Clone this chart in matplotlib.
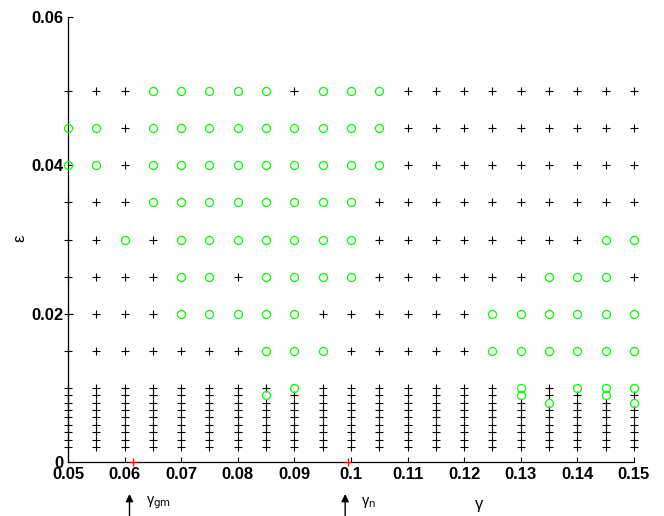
"""Stability map over (gamma, epsilon): stable points as green circles, unstable as black crosses."""

import matplotlib

matplotlib.use("Agg")

import matplotlib.pyplot as plt
import matplotlib.transforms as mtransforms


GAMMA = [0.05, 0.055, 0.06, 0.065, 0.07, 0.075, 0.08, 0.085, 0.09, 0.095, 0.1,
         0.105, 0.11, 0.115, 0.12, 0.125, 0.13, 0.135, 0.14, 0.145, 0.15]

# coarse epsilon rows; one character per gamma: o = stable, + = unstable
EPS_UPPER = [0.05, 0.045, 0.04, 0.035, 0.03, 0.025, 0.02, 0.015]
UPPER_ROWS = [
    "+++ooooo+ooo+++++++++",
    "oo+ooooooooo+++++++++",
    "oo+ooooooooo+++++++++",
    "+++oooooooo++++++++++",
    "++o+ooooooo++++++++oo",
    "++++oo+oooo++++++ooo+",
    "++++ooooo++++++oooooo",
    "+++++++ooo+++++oooooo",
]

# fine epsilon grid, stable points listed per gamma
EPS_LOWER = [0.002, 0.003, 0.004, 0.005, 0.006, 0.007, 0.008, 0.009, 0.01]
LOWER_STABLE = {
    0.085: [0.009],
    0.09: [0.01],
    0.13: [0.01, 0.009],
    0.135: [0.008],
    0.14: [0.01],
    0.145: [0.01, 0.009],
    0.15: [0.01, 0.008],
}

GAMMA_GM = 0.0614
GAMMA_N = 0.0995

X_TICKS = [0.05, 0.06, 0.07, 0.08, 0.09, 0.1, 0.11, 0.12, 0.13, 0.14, 0.15]
X_TICKLABELS = ["0.05", "0.06", "0.07", "0.08", "0.09", "0.1", "0.11", "0.12", "0.13", "0.14", "0.15"]
Y_TICKS = [0, 0.02, 0.04, 0.06]
Y_TICKLABELS = ["0", "0.02", "0.04", "0.06"]


def collect_points():
    stable, unstable = [], []
    for eps, row in zip(EPS_UPPER, UPPER_ROWS):
        for g, flag in zip(GAMMA, row):
            (stable if flag == "o" else unstable).append((g, eps))
    for g in GAMMA:
        circled = LOWER_STABLE.get(g, [])
        for eps in EPS_LOWER:
            (stable if eps in circled else unstable).append((g, eps))
    return stable, unstable


def main():
    plt.rcParams["font.family"] = ["Liberation Sans", "DejaVu Sans"]
    fig = plt.figure(figsize=(6.64, 5.16), dpi=100)
    ax = fig.add_axes([0.1024, 0.1047, 0.8524, 0.8623])

    stable, unstable = collect_points()
    ax.plot([p[0] for p in unstable], [p[1] for p in unstable], "k+",
            ms=5.4, mew=0.8, clip_on=False, zorder=3)
    ax.plot([p[0] for p in stable], [p[1] for p in stable], "o", color="#00ff00",
            mfc="none", ms=5.8, mew=0.9, clip_on=False, zorder=4)
    ax.plot([GAMMA_GM, GAMMA_N], [0, 0], "r+", ms=6, mew=0.9, clip_on=False, zorder=5)

    ax.set_xlim(0.05, 0.15)
    ax.set_ylim(0, 0.06)
    ax.set_xticks(X_TICKS)
    ax.set_xticklabels(X_TICKLABELS, fontweight="bold", fontsize=12)
    ax.set_yticks(Y_TICKS)
    ax.set_yticklabels(Y_TICKLABELS, fontweight="bold", fontsize=12)
    ax.tick_params(direction="in", length=3.6, width=0.8, pad=3.5)
    ax.spines["top"].set_visible(False)
    ax.spines["right"].set_visible(False)
    for side in ("left", "bottom"):
        ax.spines[side].set_linewidth(0.9)

    # arrows and labels for the two special gamma values, below the axis
    base = ax.get_xaxis_transform()
    arrow_tr = mtransforms.offset_copy(base, fig=fig, x=-3, y=0, units="dots")
    text_tr = mtransforms.offset_copy(base, fig=fig, x=13, y=0, units="dots")
    for g, sub in ((GAMMA_GM, "gm"), (GAMMA_N, "n")):
        ax.annotate("", xy=(g, -0.072), xycoords=arrow_tr,
                    xytext=(g, -0.15), textcoords=arrow_tr,
                    arrowprops=dict(arrowstyle="-|>", color="k", lw=1.0,
                                    mutation_scale=11, shrinkA=0, shrinkB=0),
                    annotation_clip=False)
        ax.text(g, -0.092, "γ$_{\\mathrm{" + sub + "}}$", transform=text_tr,
                ha="left", va="center", fontsize=10.5, clip_on=False)

    fig.text(479 / 664, 1 - 505 / 516, "γ", ha="center", va="center", fontsize=12)
    fig.text(20 / 664, 1 - 238 / 516, "ε", ha="center", va="center", fontsize=12, rotation=90)

    fig.savefig("out.png", dpi=100)
    plt.close(fig)


if __name__ == "__main__":
    main()
